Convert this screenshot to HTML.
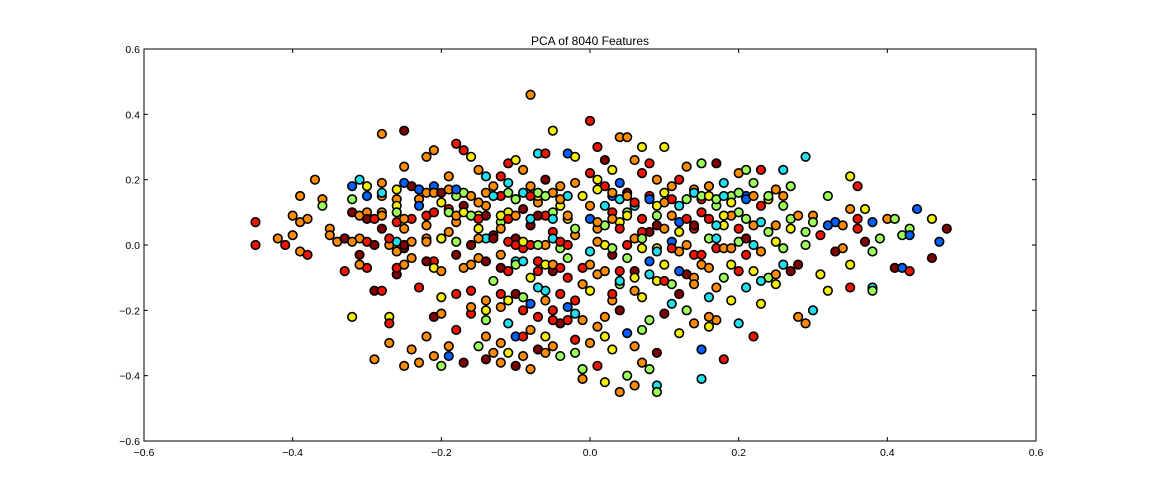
<!DOCTYPE html>
<html><head><meta charset="utf-8"><style>
html,body{margin:0;padding:0;background:#fff;width:1152px;height:504px;overflow:hidden}
svg{display:block}
text{font-family:"Liberation Sans",sans-serif}
</style></head><body>
<svg id="chart" width="1152" height="504" xmlns="http://www.w3.org/2000/svg">
<text x="590" y="45" text-anchor="middle" font-size="12">PCA of 8040 Features</text>
<g id="points"></g>
<rect x="144" y="49" width="892" height="392" fill="none" stroke="#000" stroke-width="1"/>
<g id="axes"></g>
</svg>
<script>
const xTicks=[-0.6,-0.4,-0.2,0.0,0.2,0.4,0.6];
const yTicks=[-0.6,-0.4,-0.2,0.0,0.2,0.4,0.6];
const tickLabels=["\u22120.6","\u22120.4","\u22120.2","0.0","0.2","0.4","0.6"];
const xs=[-0.45,-0.45,-0.42,-0.41,-0.40,-0.40,-0.39,-0.39,-0.39,-0.38,-0.38,-0.37,-0.36,-0.36,-0.35,-0.35,-0.34,-0.33,-0.33,-0.32,-0.32,-0.32,-0.31,-0.31,-0.31,-0.32,-0.31,-0.30,-0.30,-0.30,-0.29,-0.29,-0.28,-0.28,-0.28,-0.28,-0.28,-0.28,-0.27,-0.27,-0.27,-0.27,-0.26,-0.26,-0.26,-0.26,-0.26,-0.25,-0.25,-0.25,-0.25,-0.25,-0.25,-0.24,-0.24,-0.24,-0.24,-0.23,-0.23,-0.23,-0.23,-0.22,-0.22,-0.22,-0.22,-0.21,-0.21,-0.21,-0.21,-0.21,-0.20,-0.20,-0.20,-0.20,-0.19,-0.19,-0.19,-0.19,-0.19,-0.18,-0.18,-0.18,-0.18,-0.17,-0.17,-0.17,-0.17,-0.17,-0.16,-0.16,-0.16,-0.16,-0.16,-0.15,-0.15,-0.15,-0.15,-0.14,-0.14,-0.14,-0.14,-0.14,-0.14,-0.13,-0.13,-0.13,-0.13,-0.12,-0.12,-0.12,-0.12,-0.12,-0.12,-0.11,-0.11,-0.11,-0.11,-0.11,-0.11,-0.10,-0.10,-0.10,-0.10,-0.10,-0.10,-0.09,-0.09,-0.09,-0.09,-0.09,-0.08,-0.08,-0.08,-0.08,-0.08,-0.08,-0.07,-0.07,-0.07,-0.07,-0.07,-0.06,-0.06,-0.06,-0.06,-0.06,-0.06,-0.05,-0.05,-0.05,-0.05,-0.05,-0.05,-0.04,-0.04,-0.04,-0.04,-0.04,-0.03,-0.03,-0.03,-0.03,-0.02,-0.02,-0.02,-0.02,-0.02,-0.01,-0.01,-0.01,-0.01,-0.01,0.00,0.00,0.00,0.00,0.00,0.00,0.01,0.01,0.01,0.01,0.01,0.01,0.02,0.02,0.02,0.02,0.02,0.03,0.03,0.03,0.03,0.03,0.04,0.04,0.04,0.04,0.04,0.04,0.05,0.05,0.05,0.05,0.05,0.06,0.06,0.06,0.06,0.06,0.07,0.07,0.07,0.07,0.07,0.07,0.08,0.08,0.08,0.08,0.08,0.09,0.09,0.09,0.09,0.09,0.10,0.10,0.10,0.10,0.11,0.11,0.11,0.12,0.12,0.12,0.12,0.12,0.13,0.13,0.13,0.14,0.14,0.14,0.14,0.15,0.15,0.15,0.15,0.15,0.16,0.16,0.16,0.16,0.17,0.17,0.17,0.17,0.17,0.18,0.18,0.18,0.19,0.19,0.19,0.20,0.20,0.20,0.20,0.21,0.21,0.21,0.21,0.22,0.22,0.22,0.22,0.23,0.23,0.23,0.24,0.24,0.25,0.25,0.25,0.26,0.26,0.26,0.27,0.27,0.27,0.28,0.28,0.28,0.29,0.29,0.29,0.30,0.30,0.31,0.31,0.32,0.32,0.33,0.34,0.34,0.35,0.35,0.35,0.35,0.36,0.36,0.37,0.37,0.38,0.38,0.38,0.39,0.40,0.41,0.41,0.42,0.42,0.43,0.43,0.43,0.44,0.46,0.46,0.47,0.48,-0.23,-0.05,-0.02,0.00,0.02,-0.03,0.05,0.03,-0.06,0.08,-0.01,0.06,-0.08,0.10,0.12,-0.12,-0.15,-0.20,-0.10,0.14,0.18,0.22,0.04,0.00,-0.03,0.09,0.11,0.15,0.19,0.24,-0.18,-0.22,-0.26,-0.14,-0.07,0.02];
const ys=[0.07,0.00,0.02,0.00,0.09,0.03,0.15,0.07,-0.02,-0.03,0.08,0.20,0.14,0.12,0.05,0.03,0.01,0.02,-0.08,0.14,0.10,0.18,0.20,0.09,0.02,-0.22,-0.03,0.18,0.10,-0.07,-0.14,-0.35,0.34,0.19,0.15,0.10,0.05,-0.14,-0.22,-0.24,-0.30,0.00,0.14,0.12,0.07,-0.02,-0.09,0.35,0.24,0.19,0.05,-0.01,-0.37,0.18,0.08,-0.04,-0.32,-0.13,-0.36,0.17,0.14,0.27,-0.28,0.02,0.06,0.29,0.18,-0.05,-0.22,-0.34,0.13,-0.16,-0.21,-0.37,0.21,0.11,0.04,-0.31,-0.34,0.31,0.07,-0.03,-0.26,0.29,0.16,0.12,-0.07,-0.36,0.27,0.15,-0.14,-0.21,0.00,0.23,0.09,-0.04,-0.31,0.21,0.12,-0.17,-0.23,-0.28,-0.35,0.18,0.03,-0.11,-0.33,0.21,0.15,0.07,-0.03,-0.19,-0.36,0.25,0.19,0.10,-0.08,-0.24,-0.33,0.26,0.14,0.02,-0.15,-0.28,-0.37,0.23,0.11,-0.01,-0.20,-0.34,0.46,0.18,0.06,-0.10,-0.26,-0.38,0.28,0.13,-0.05,-0.22,-0.32,0.28,0.20,0.09,0.00,-0.14,-0.28,0.35,0.16,0.04,-0.08,-0.20,-0.31,0.18,0.12,-0.01,-0.24,-0.34,0.28,0.08,-0.10,-0.23,0.27,0.19,0.03,-0.17,-0.33,0.15,-0.07,-0.23,-0.38,-0.41,0.38,0.22,0.12,-0.02,-0.14,-0.30,0.30,0.20,0.05,-0.09,-0.25,-0.37,0.26,0.12,0.00,-0.22,-0.42,0.23,0.10,-0.03,-0.17,-0.32,0.33,0.19,0.07,-0.08,-0.20,-0.45,0.33,0.16,-0.04,-0.27,-0.40,0.26,0.12,0.02,-0.14,-0.43,0.30,0.22,0.08,-0.01,-0.26,-0.36,0.25,0.15,-0.05,-0.23,-0.38,0.20,0.06,-0.11,-0.43,-0.45,0.30,0.13,-0.06,-0.21,0.18,0.01,-0.12,0.20,0.07,-0.02,-0.15,-0.27,0.24,0.14,-0.09,0.17,0.05,-0.10,-0.24,0.25,0.10,-0.06,-0.32,-0.41,0.18,0.02,-0.16,-0.25,0.25,0.12,-0.01,-0.13,-0.23,0.19,0.06,-0.35,0.15,-0.06,-0.17,0.22,0.10,0.01,-0.24,0.23,0.15,-0.03,-0.13,0.19,0.06,-0.08,-0.28,0.23,0.12,-0.18,0.04,-0.10,0.17,0.01,-0.12,0.23,0.12,-0.06,0.18,0.08,-0.08,0.09,-0.22,-0.06,0.27,0.04,-0.24,0.09,-0.20,0.03,-0.09,0.15,-0.14,0.07,0.06,-0.01,0.21,0.11,-0.06,-0.13,0.18,0.05,0.11,0.01,-0.13,-0.14,0.07,0.02,0.08,0.08,-0.07,0.03,-0.07,0.05,0.03,-0.08,0.11,0.08,-0.04,0.01,0.05,0.12,0.10,0.05,0.08,0.06,-0.04,0.10,0.15,-0.06,0.04,-0.12,-0.08,0.00,0.05,0.12,0.05,0.05,0.02,-0.05,-0.03,-0.01,0.00,-0.12,-0.06,0.00,-0.01,0.09,0.14,0.09,0.14,0.15,0.09,0.01,0.02,0.15,0.18];
const cs="RRoRoooooRooogooooRgrbcooyryoRrooooorRyRoooyRorrobororRooRoooooooobRroyyogoRoobRorRRgroryoRRyoyogcoogororgoRRgoooRcyycyyRrrbrorRRoooryoocoRRrRrRocyyoRrRooygrgbyRRyooRgyRogoRRocyoRyoooRrcyoyyRroyobyRroorgbgocoooyRRygoRRbggorycgyoyrobgRboryogroRoogRobcogcyrgRoocyRgyyoggcgbRcgoyRRRyggoyycgcggroorcgoocRygybooyoyRRRyrcgbgogrgbgbRbyrbrbggbgggbyrorRocoygcRocgoRyoRoygoccyRyrgyRRrgr";
const xsB=[-0.30,-0.28,-0.26,-0.23,-0.22,-0.21,-0.20,-0.19,-0.18,-0.15,-0.14,-0.13,-0.11,-0.10,-0.09,-0.08,-0.07,-0.06,-0.04,-0.03,-0.30,-0.29,-0.28,-0.26,-0.25,-0.22,-0.21,-0.19,-0.18,-0.17,-0.16,-0.15,-0.14,-0.12,-0.11,-0.10,-0.08,-0.07,-0.05,-0.03,-0.33,-0.32,-0.30,-0.29,-0.27,-0.25,-0.24,-0.22,-0.20,-0.18,-0.16,-0.15,-0.13,-0.11,-0.10,-0.09,-0.07,-0.05,-0.04,-0.31,-0.26,-0.25,-0.22,-0.21,-0.20,-0.16,-0.14,-0.12,-0.11,-0.10,-0.09,-0.07,-0.05,-0.04,-0.18,-0.16,-0.14,-0.12,-0.11,-0.09,-0.08,-0.07,-0.06,-0.05,-0.03,-0.02,-0.04,0.01,0.03,0.04,0.05,0.06,0.08,0.09,0.10,0.11,0.14,0.15,0.16,0.17,0.18,0.19,0.20,0.21,0.22,0.24,0.26,0.01,0.03,0.04,0.05,0.07,0.09,0.12,0.13,0.14,0.16,0.17,0.18,0.20,0.21,0.23,0.25,0.27,0.30,0.32,0.36,0.01,0.03,0.05,0.07,0.09,0.11,0.13,0.15,0.17,0.19,0.21,0.23,0.26,0.29,0.33,0.38,0.02,0.04,0.06,0.08,0.10,0.12,0.14,0.16,0.18,0.20,0.23,0.25,0.03,0.07,0.11,0.13,0.16,-0.12,-0.09,-0.06,-0.02,0.02,0.06,0.09];
const ysB=[0.15,0.16,0.17,0.17,0.16,0.16,0.16,0.17,0.17,0.13,0.16,0.15,0.16,0.14,0.16,0.15,0.16,0.15,0.14,0.15,0.08,0.08,0.09,0.10,0.08,0.09,0.10,0.10,0.09,0.10,0.09,0.08,0.09,0.09,0.08,0.09,0.08,0.09,0.08,0.09,0.02,0.01,0.01,0.00,0.02,0.00,0.01,0.01,0.02,0.01,0.00,0.02,0.02,0.01,0.00,0.01,0.00,0.02,0.01,-0.06,-0.07,-0.06,-0.05,-0.07,-0.08,-0.06,-0.05,-0.07,-0.08,-0.06,-0.05,-0.08,-0.06,-0.07,-0.15,-0.19,-0.20,-0.15,-0.17,-0.16,-0.18,-0.13,-0.17,-0.23,-0.19,-0.21,-0.15,0.17,0.16,0.14,0.15,0.13,0.14,0.12,0.16,0.14,0.16,0.15,0.15,0.14,0.15,0.13,0.16,0.14,0.15,0.15,0.15,0.07,0.08,0.05,0.09,0.04,0.09,0.04,0.08,0.06,0.08,0.06,0.09,0.05,0.08,0.07,0.06,0.05,0.07,0.06,0.08,0.01,-0.01,0.00,0.02,-0.02,-0.01,0.00,-0.03,0.02,-0.01,0.02,-0.02,-0.01,0.00,-0.02,-0.02,-0.08,-0.11,-0.10,-0.09,-0.11,-0.08,-0.12,-0.07,-0.10,-0.08,-0.11,-0.09,-0.15,-0.16,-0.18,-0.20,-0.22,-0.30,-0.28,-0.33,-0.29,-0.28,-0.31,-0.33];
const csB="bcybooroboocggcRggoc rRogoRRgoygRryRocrcoroRrRrooygrorRRygcRoRoryoorrRgcRoRRoyRygbcoRbcRyocoRbyyRcgygcygbogoooRyRgyRrRcyRgcoygbRogRgcRoRcoroggrgocycRboogRcoRycgooRoRyorgoobRy".replace(/ /g,"");
const palette={r:"#800000",R:"#f01400",o:"#ff8c00",y:"#f4ee00",g:"#9cff5a",c:"#20e0f0",b:"#0060ff"};
const X0=144,X1=1036,Y0=441,Y1=49;
function sx(v){return X0+(v+0.6)/1.2*(X1-X0);}
function sy(v){return Y0-(v+0.6)/1.2*(Y0-Y1);}
const NS="http://www.w3.org/2000/svg";
const pg=document.getElementById('points');
function plotSet(xa,ya,ca){
  for(let i=0;i<xa.length;i++){
    const c=document.createElementNS(NS,'circle');
    c.setAttribute('cx',sx(xa[i]));c.setAttribute('cy',sy(ya[i]));
    c.setAttribute('r',4.3);
    c.setAttribute('fill',palette[ca[i]]||"#ff8c00");
    c.setAttribute('stroke','#000');c.setAttribute('stroke-width','1.6');
    
    
    pg.appendChild(c);
  }
}
plotSet(xs,ys,cs);
plotSet(xsB,ysB,csB);
const ag=document.getElementById('axes');
xTicks.forEach((v,i)=>{
  const x=sx(v);
  const t1=document.createElementNS(NS,'line');
  t1.setAttribute('x1',x);t1.setAttribute('x2',x);t1.setAttribute('y1',Y0);t1.setAttribute('y2',Y0-4);t1.setAttribute('stroke','#000');
  
  
  ag.appendChild(t1);
  const t2=document.createElementNS(NS,'line');
  t2.setAttribute('x1',x);t2.setAttribute('x2',x);t2.setAttribute('y1',Y1);t2.setAttribute('y2',Y1+4);t2.setAttribute('stroke','#000');
  
  
  ag.appendChild(t2);
  const tx=document.createElementNS(NS,'text');
  tx.setAttribute('x',x);tx.setAttribute('y',Y0+15);tx.setAttribute('text-anchor','middle');tx.setAttribute('font-size','10.5');
  tx.textContent=tickLabels[i];
  
  
  ag.appendChild(tx);
});
yTicks.forEach((v,i)=>{
  const y=sy(v);
  const t1=document.createElementNS(NS,'line');
  t1.setAttribute('x1',X0);t1.setAttribute('x2',X0+4);t1.setAttribute('y1',y);t1.setAttribute('y2',y);t1.setAttribute('stroke','#000');
  
  
  ag.appendChild(t1);
  const t2=document.createElementNS(NS,'line');
  t2.setAttribute('x1',X1);t2.setAttribute('x2',X1-4);t2.setAttribute('y1',y);t2.setAttribute('y2',y);t2.setAttribute('stroke','#000');
  
  
  ag.appendChild(t2);
  const tx=document.createElementNS(NS,'text');
  tx.setAttribute('x',X0-4);tx.setAttribute('y',y+4);tx.setAttribute('text-anchor','end');tx.setAttribute('font-size','10.5');
  tx.textContent=tickLabels[i];
  
  
  ag.appendChild(tx);
});
</script>
</body></html>
